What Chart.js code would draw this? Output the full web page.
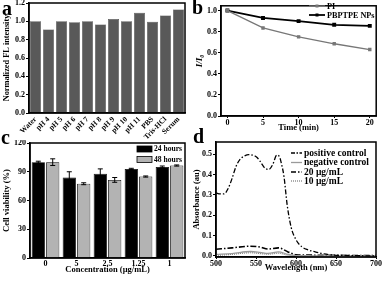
<!DOCTYPE html>
<html>
<head>
<meta charset="utf-8">
<script src="https://cdn.jsdelivr.net/npm/chart.js@4.4.0/dist/chart.umd.min.js"></script>
<style>
  body { margin: 0; background: #fff; }
  #wrap { position: relative; width: 382px; height: 281px; overflow: hidden; }
  canvas { position: absolute; }
  .lbl { position: absolute; font: bold 20px "Liberation Serif", serif; line-height: 1; color: #000; }
</style>
</head>
<body>
<div id="wrap">
  <canvas id="ca" width="191" height="140" style="left:0;top:0"></canvas>
  <canvas id="cb" width="191" height="140" style="left:191px;top:0"></canvas>
  <canvas id="cc" width="191" height="141" style="left:0;top:140px"></canvas>
  <canvas id="cd" width="191" height="141" style="left:191px;top:140px"></canvas>
  <div class="lbl" style="left:2px;top:-2px">a</div>
  <div class="lbl" style="left:192px;top:-3px">b</div>
  <div class="lbl" style="left:1px;top:127px">c</div>
  <div class="lbl" style="left:193px;top:126px">d</div>
</div>
<script>
// panel a
const mediums = ['Water', 'pH 4', 'pH 5', 'pH 6', 'pH 7', 'pH 8', 'pH 9', 'pH 10', 'pH 11', 'PBS', 'Tris-HCl', 'Serum']
const flIntensity = [1.0, 0.91, 1.0, 0.99, 1.0, 0.965, 1.025, 1.0, 1.095, 0.995, 1.065, 1.13]

// panel b
const times = [0, 5, 10, 15, 20]
const piVals = [1.0, 0.835, 0.75, 0.685, 0.63]
const npVals = [1.0, 0.93, 0.90, 0.865, 0.855]

// panel c
const concs = ['0', '5', '2.5', '1.25', '1']
const via24 = [100, 84, 88, 93, 95]
const err24 = [1, 6, 5, 0.6, 1]
const via48 = [100, 77.5, 81.5, 85, 96.5]
const err48 = [3.5, 1, 2.5, 0.6, 0.6]

// panel d
const wlPos = [500, 505, 510, 515, 520, 525, 530, 535, 541, 546, 551, 556, 561, 566, 571, 576, 579, 582, 585, 589, 594, 600, 607, 615, 624, 635, 646, 670, 700]
const absPos = [0.31, 0.305, 0.305, 0.33, 0.38, 0.44, 0.475, 0.49, 0.498, 0.495, 0.485, 0.46, 0.432, 0.425, 0.45, 0.495, 0.49, 0.45, 0.39, 0.25, 0.14, 0.08, 0.046, 0.03, 0.02, 0.01, 0.005, 0.002, 0]
const wlLow = [500, 520, 543, 555, 565, 578, 590, 600, 620, 650, 700]
const abs20 = [0.033, 0.04, 0.048, 0.044, 0.034, 0.04, 0.02, 0.006, 0.004, 0.003, 0.002]
const absNeg = [0.008, 0.012, 0.022, 0.018, 0.013, 0.02, 0.008, 0.002, 0.001, 0, 0]
const abs10 = [0.003, 0.008, 0.016, 0.012, 0.009, 0.014, 0.004, 0.001, 0, 0, 0]

Chart.defaults.font.family = '"Liberation Serif", "Times New Roman", serif'
Chart.defaults.font.weight = 'bold'
Chart.defaults.font.size = 8
Chart.defaults.color = '#000'
Chart.defaults.animation = false
Chart.defaults.plugins.legend.display = false
Chart.defaults.plugins.tooltip.enabled = false

const frame = {
    id: 'frame',
    afterDatasetsDraw(chart) {
        const { ctx, chartArea: a } = chart
        ctx.save()
        ctx.strokeStyle = '#000'
        ctx.lineWidth = 1.5
        ctx.strokeRect(a.left, a.top, a.right - a.left, a.bottom - a.top)
        ctx.restore()
    }
}

const tickGrid = { drawOnChartArea: false, drawTicks: true, tickLength: 3, color: '#000' }
const noGrid = { display: false, drawTicks: false, tickLength: 0 }
const fixedTicks = (vals) => (scale) => { scale.ticks = vals.map(v => ({ value: v })) }
// fix the axis box size and drop the label overhang padding
const fitBox = (size) => (scale) => {
    if (scale.isHorizontal()) scale.height = size
    else scale.width = size
    scale.paddingTop = scale.paddingBottom = scale.paddingLeft = scale.paddingRight = 0
}

const legendPlugin = (items, size) => ({
    id: 'ownLegend',
    afterDraw(chart) {
        const ctx = chart.ctx
        ctx.save()
        ctx.font = `bold ${size}px "Liberation Serif", serif`
        ctx.textBaseline = 'middle'
        items.forEach(it => {
            if (it.box) {
                ctx.fillStyle = it.box
                ctx.fillRect(it.x, it.y - 3, it.w, 6)
                ctx.strokeStyle = '#000'
                ctx.lineWidth = 0.8
                ctx.strokeRect(it.x, it.y - 3, it.w, 6)
            } else {
                ctx.strokeStyle = it.color
                ctx.lineWidth = it.lw
                ctx.setLineDash(it.dash || [])
                ctx.beginPath()
                ctx.moveTo(it.x, it.y)
                ctx.lineTo(it.x + it.w, it.y)
                ctx.stroke()
                ctx.setLineDash([])
                if (it.marker) {
                    ctx.fillStyle = it.color
                    ctx.fillRect(it.x + it.w / 2 - 1.5, it.y - 1.5, 3, 3)
                }
            }
            ctx.fillStyle = '#000'
            ctx.fillText(it.text, it.x + it.w + 2, it.y + 0.5)
        })
        ctx.restore()
    }
})

// a
new Chart(document.getElementById('ca'), {
    type: 'bar',
    data: {
        labels: mediums,
        datasets: [{
            data: flIntensity,
            backgroundColor: '#595959',
            borderColor: '#3a3a3a',
            borderWidth: 0.5,
            barPercentage: 0.85,
            categoryPercentage: 1
        }]
    },
    options: {
        responsive: false,
        layout: { padding: { top: 3, right: 6, left: 2 } },
        scales: {
            x: {
                grid: noGrid,
                border: { color: '#000', width: 1.5 },
                ticks: { autoSkip: false, minRotation: 45, maxRotation: 45, padding: 2, font: { size: 7.5 } },
                afterFit: fitBox(27)
            },
            y: {
                min: 0, max: 1.2,
                afterBuildTicks: fixedTicks([0, 0.2, 0.4, 0.6, 0.8, 1.0, 1.2]),
                grid: tickGrid,
                border: { color: '#000', width: 1.5 },
                ticks: { padding: 1, callback: v => v.toFixed(1) },
                title: { display: true, text: 'Normalized FL intensity', padding: 0, font: { size: 8.3 } },
                afterFit: fitBox(27)
            }
        }
    },
    plugins: [frame]
})

// b
new Chart(document.getElementById('cb'), {
    type: 'line',
    data: {
        datasets: [
            {
                data: times.map((t, i) => ({ x: t, y: piVals[i] })),
                borderColor: '#777', backgroundColor: '#777', borderWidth: 1.3,
                pointStyle: 'rect', pointRadius: 1.5
            },
            {
                data: times.map((t, i) => ({ x: t, y: npVals[i] })),
                borderColor: '#000', backgroundColor: '#000', borderWidth: 1.8,
                pointStyle: 'rect', pointRadius: 1.5
            }
        ]
    },
    options: {
        responsive: false,
        layout: { padding: { top: 3, right: 4, left: 3, bottom: 7 } },
        scales: {
            x: {
                type: 'linear', min: -0.9, max: 20.9,
                afterBuildTicks: fixedTicks(times),
                grid: { ...tickGrid, tickLength: 2 },
                border: { color: '#000', width: 1.5 },
                ticks: { padding: 0 },
                title: { display: true, text: 'Time (min)', padding: 0, font: { size: 8.5 } },
                afterFit: fitBox(17)
            },
            y: {
                min: 0, max: 1.045,
                afterBuildTicks: fixedTicks([0, 0.2, 0.4, 0.6, 0.8, 1.0]),
                grid: tickGrid,
                border: { color: '#000', width: 1.5 },
                ticks: { padding: 1, callback: v => v.toFixed(1) },
                title: { display: true, text: 'I/I\u2080', padding: 0, font: { size: 9, style: 'italic' } },
                afterFit: fitBox(27)
            }
        }
    },
    plugins: [frame, legendPlugin([
        { text: 'PI', x: 118, y: 6, w: 16, color: '#777', lw: 1.3, marker: true },
        { text: 'PBPTPE NPs', x: 118, y: 15, w: 16, color: '#000', lw: 1.8, marker: true }
    ], 8.2)]
})

// c
const errorBars = {
    id: 'errorBars',
    afterDatasetsDraw(chart) {
        const { ctx } = chart
        const y = chart.scales.y
        const errs = [err24, err48]
        ctx.save()
        ctx.strokeStyle = '#000'
        ctx.lineWidth = 1
        chart.data.datasets.forEach((ds, di) => {
            chart.getDatasetMeta(di).data.forEach((bar, i) => {
                const v = ds.data[i]
                const top = y.getPixelForValue(v + errs[di][i])
                const bot = y.getPixelForValue(v - errs[di][i])
                ctx.beginPath()
                ctx.moveTo(bar.x, top); ctx.lineTo(bar.x, bot)
                ctx.moveTo(bar.x - 2.5, top); ctx.lineTo(bar.x + 2.5, top)
                ctx.moveTo(bar.x - 2.5, bot); ctx.lineTo(bar.x + 2.5, bot)
                ctx.stroke()
            })
        })
        ctx.restore()
    }
}

new Chart(document.getElementById('cc'), {
    type: 'bar',
    data: {
        labels: concs,
        datasets: [
            { data: via24, backgroundColor: '#000', borderColor: '#000', borderWidth: 0.8, barPercentage: 0.92, categoryPercentage: 0.93 },
            { data: via48, backgroundColor: '#b3b3b3', borderColor: '#000', borderWidth: 0.8, barPercentage: 0.92, categoryPercentage: 0.93 }
        ]
    },
    options: {
        responsive: false,
        layout: { padding: { top: 3, right: 6, left: 2, bottom: 6 } },
        scales: {
            x: {
                grid: noGrid,
                border: { color: '#000', width: 1.5 },
                ticks: { padding: 1 },
                title: { display: true, text: 'Concentration (\u00b5g/mL)', padding: 0, font: { size: 8.5 } },
                afterFit: fitBox(17)
            },
            y: {
                min: 0, max: 120,
                afterBuildTicks: fixedTicks([0, 30, 60, 90, 120]),
                grid: tickGrid,
                border: { color: '#000', width: 1.5 },
                ticks: { padding: 1 },
                title: { display: true, text: 'Cell viability (%)', padding: 0, font: { size: 8.5 } },
                afterFit: fitBox(28)
            }
        }
    },
    plugins: [frame, errorBars, legendPlugin([
        { text: '24 hours', x: 137, y: 9, w: 15, box: '#000' },
        { text: '48 hours', x: 137, y: 19.5, w: 15, box: '#b3b3b3' }
    ], 7.6)]
})

// d
const pts = (xs, ys) => xs.map((x, i) => ({ x, y: ys[i] }))
new Chart(document.getElementById('cd'), {
    type: 'line',
    data: {
        datasets: [
            { data: pts(wlPos, absPos), borderColor: '#000', borderWidth: 1.3, borderDash: [5, 2, 1.5, 2], pointRadius: 0, cubicInterpolationMode: 'monotone' },
            { data: pts(wlLow, absNeg), borderColor: '#9a9a9a', borderWidth: 1.3, pointRadius: 0, cubicInterpolationMode: 'monotone' },
            { data: pts(wlLow, abs20), borderColor: '#000', borderWidth: 1.6, borderDash: [6, 2, 1.5, 2], pointRadius: 0, cubicInterpolationMode: 'monotone' },
            { data: pts(wlLow, abs10), borderColor: '#777', borderWidth: 1.2, borderDash: [1, 1], pointRadius: 0, cubicInterpolationMode: 'monotone' }
        ]
    },
    options: {
        responsive: false,
        layout: { padding: { top: 2, right: 6, left: 1, bottom: 8 } },
        scales: {
            x: {
                type: 'linear', min: 500, max: 700,
                afterBuildTicks: fixedTicks([500, 550, 600, 650, 700]),
                grid: { ...tickGrid, tickLength: 2 },
                border: { color: '#000', width: 1.5 },
                ticks: { padding: 0 },
                title: { display: true, text: 'Wavelength (nm)', padding: 0, font: { size: 8.5 } },
                afterFit: fitBox(16)
            },
            y: {
                min: -0.005, max: 0.56,
                afterBuildTicks: fixedTicks([0, 0.1, 0.2, 0.3, 0.4, 0.5]),
                grid: tickGrid,
                border: { color: '#000', width: 1.5 },
                ticks: { padding: 1, callback: v => v.toFixed(1) },
                title: { display: true, text: 'Absorbance (au)', padding: 0, font: { size: 8.5 } },
                afterFit: fitBox(24)
            }
        }
    },
    plugins: [frame, legendPlugin([
        { text: 'positive control', x: 100, y: 13, w: 11, color: '#000', lw: 1.3, dash: [4, 1.5, 1.5, 1.5] },
        { text: 'negative control', x: 100, y: 22.5, w: 11, color: '#9a9a9a', lw: 1.3 },
        { text: '20 \u00b5g/mL', x: 100, y: 32, w: 11, color: '#000', lw: 1.6, dash: [5, 2, 1.5, 2] },
        { text: '10 \u00b5g/mL', x: 100, y: 41, w: 11, color: '#777', lw: 1.2, dash: [1, 1] }
    ], 9.5)]
})
</script>
</body>
</html>
